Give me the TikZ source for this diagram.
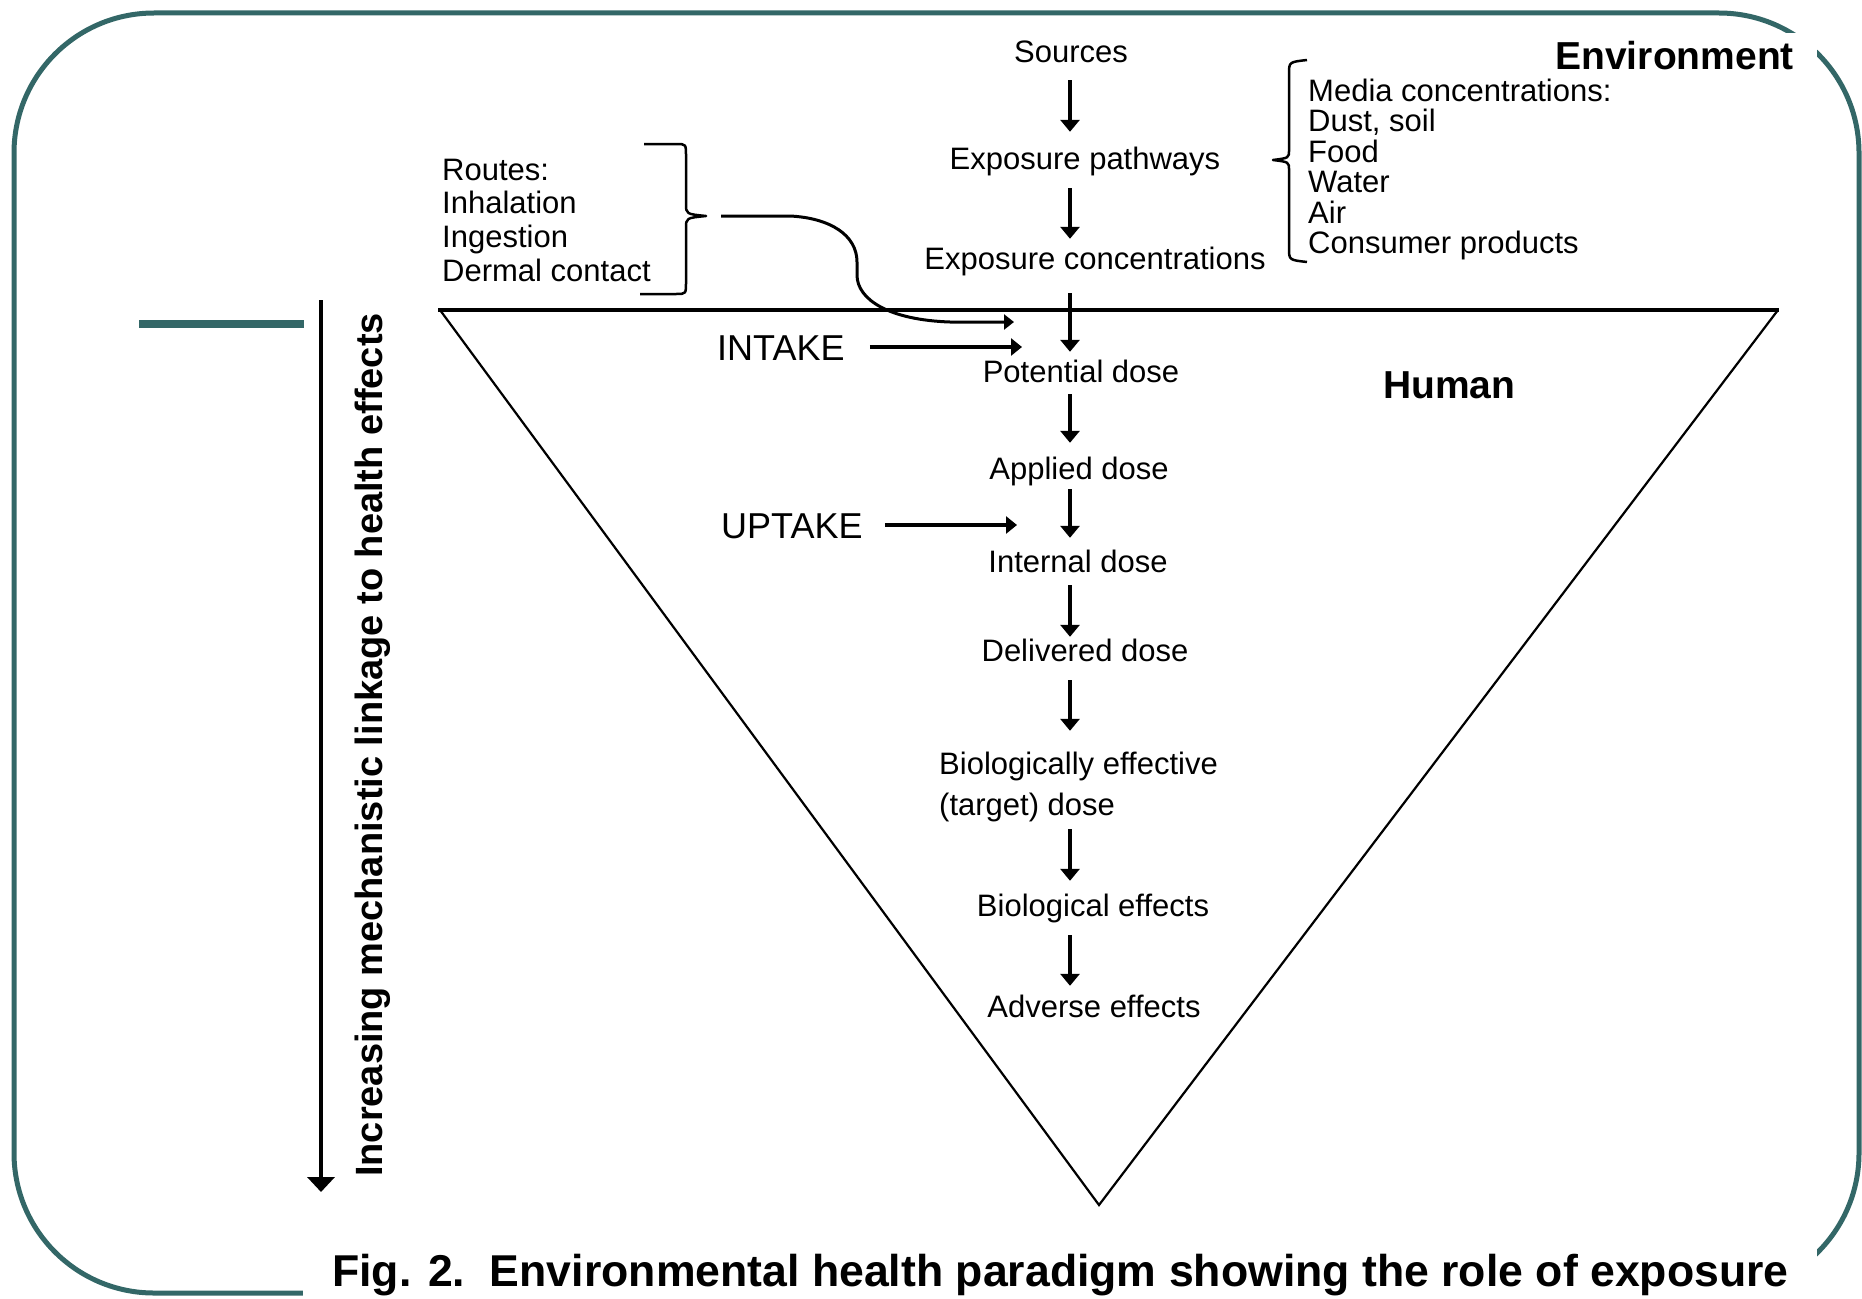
\documentclass[tikz,border=0pt]{standalone}
\usepackage{fontspec}
\setmainfont{Liberation Sans}
\usetikzlibrary{arrows.meta}
\definecolor{teal1}{RGB}{51,103,103}
\begin{document}
\begin{tikzpicture}[x=1pt,y=-1pt,
  lab/.style={font=\fontsize{31}{36}\selectfont, inner sep=0pt, text height=23pt, text depth=7pt, anchor=base},
  labw/.style={lab, anchor=base west},
  capword/.style={font=\fontsize{36}{42}\selectfont, inner sep=0pt, anchor=base west},
  bld/.style={font=\fontsize{39}{45}\selectfont\bfseries, inner sep=0pt},
  arr/.style={line width=3.5pt, -{Triangle[width=19pt,length=12pt]}},
  harr/.style={line width=4.5pt, -{Triangle[width=17pt,length=11pt]}},
  bracestyle/.style={line width=2.5pt, line join=round},
  framestyle/.style={draw=teal1, line width=5pt},
]
\useasboundingbox (0,0) rectangle (1862,1298);
% slide frame
\draw[framestyle, rounded corners=140pt] (14,13) rectangle (1859,1293);
\fill[white] (303,33) rectangle (1817,1300);
\draw[teal1, line width=8pt] (139,324) -- (304,324);

% triangle
\draw[line width=2.2pt, line join=miter] (440,310) -- (1099,1205) -- (1778,310);
\draw[line width=3.5pt] (438,310) -- (1779,310);

\coordinate (spine) at (1070,0);

% chain
\node[lab] (src) at (1071,63) {Sources};
\node[lab] (path) at (1085,169) {Exposure pathways};
\node[lab] (conc) at (1095,269) {Exposure concentrations};
\node[lab] (pot) at (1081,382) {Potential dose};
\node[lab] (app) at (1079,479) {Applied dose};
\node[lab] (int) at (1078,572) {Internal dose};
\node[lab] (del) at (1085,661) {Delivered dose};
\node[labw] (bio1) at (939,774) {Biologically effective};
\node[labw] (bio2) at (939,815) {(target) dose};
\node[lab] (beff) at (1093,916) {Biological effects};
\node[lab] (adv) at (1094,1017) {Adverse effects};

\draw[arr, shorten <=10pt, shorten >=14pt] (src.south -| spine) -- (path.north -| spine);
\draw[arr, shorten <=12pt, shorten >=7pt] (path.south -| spine) -- (conc.north -| spine);
\draw[arr, shorten <=17pt, shorten >=7pt] (conc.south -| spine) -- (pot.north -| spine);
\draw[arr, shorten <=5pt, shorten >=13pt] (pot.south -| spine) -- (app.north -| spine);
\draw[arr, shorten <=3pt, shorten >=11pt] (app.south -| spine) -- (int.north -| spine);
\draw[arr, shorten <=6pt, shorten >=1pt] (int.south -| spine) -- (del.north -| spine);
\draw[arr, shorten <=12pt, shorten >=20pt] (del.south -| spine) -- (bio1.north -| spine);
\draw[arr, shorten <=7pt, shorten >=12pt] (bio2.south -| spine) -- (beff.north -| spine);
\draw[arr, shorten <=12pt, shorten >=8pt] (beff.south -| spine) -- (adv.north -| spine);

% intake / uptake
\node[capword] (intake) at (717,360) {INTAKE};
\node[capword] (uptake) at (721,538) {UPTAKE};
\draw[harr, shorten <=25pt, shorten >=48pt] ([yshift=13pt]intake.base east) -- ([yshift=13pt]intake.base east -| spine);
\draw[harr, line width=4pt, shorten <=22pt, shorten >=53pt] ([yshift=13pt]uptake.base east) -- ([yshift=13pt]uptake.base east -| spine);

% routes
\node[labw] (r1) at (442,180) {Routes:};
\node[labw] (r2) at (442,213.7) {Inhalation};
\node[labw] (r3) at (442,247.4) {Ingestion};
\node[labw] (r4) at (442,281) {Dermal contact};
\draw[bracestyle] (644,144) -- (676,144) .. controls (686,144) .. (686,156) -- (686,204)
  .. controls (686,214) .. (706,216) .. controls (686,218) .. (686,228) -- (686,282)
  .. controls (686,294) .. (676,294) -- (640,294);
\coordinate (rstart) at (721,216);
\coordinate (rtip) at (1014,322);
\draw[line width=3pt, -{Triangle[width=15pt,length=10pt]}] (rstart) -- (790,216)
  .. controls (830,218) and (857,235) .. (857,262) -- (857,275)
  .. controls (857,300) and (890,320) .. (950,322) -- (rtip);

% media
\draw[bracestyle] (1307,60) .. controls (1289,62) .. (1289,74) -- (1289,150)
  .. controls (1289,158) .. (1273,160) .. controls (1289,162) .. (1289,170) -- (1289,248)
  .. controls (1289,260) .. (1307,262);
\node[labw] (m1) at (1308,101) {Media concentrations:};
\node[labw] (m2) at (1308,131.5) {Dust, soil};
\node[labw] (m3) at (1308,162) {Food};
\node[labw] (m4) at (1308,192.5) {Water};
\node[labw] (m5) at (1308,223) {Air};
\node[labw] (m6) at (1308,253.5) {Consumer products};

\node[bld, anchor=base east] (env) at (1794,70) {Environment};
\node[bld, anchor=base west] (hum) at (1383,398) {Human};

% left axis
\coordinate (la1) at (321,300);
\coordinate (la2) at (321,1192);
\draw[line width=4.3pt, -{Triangle[width=27pt,length=15pt]}] (la1) -- (la2);
\node[font=\fontsize{38}{44}\selectfont\bfseries, inner sep=0pt, rotate=90] (vt) at (373,745) {Increasing mechanistic linkage to health effects};

% caption
\node[font=\fontsize{44.6}{50}\selectfont\bfseries, inner sep=0pt, anchor=base west] (capt) at (332,1286) {Fig. 2.\ \ Environmental health paradigm showing the role of exposure};
\end{tikzpicture}
\end{document}
